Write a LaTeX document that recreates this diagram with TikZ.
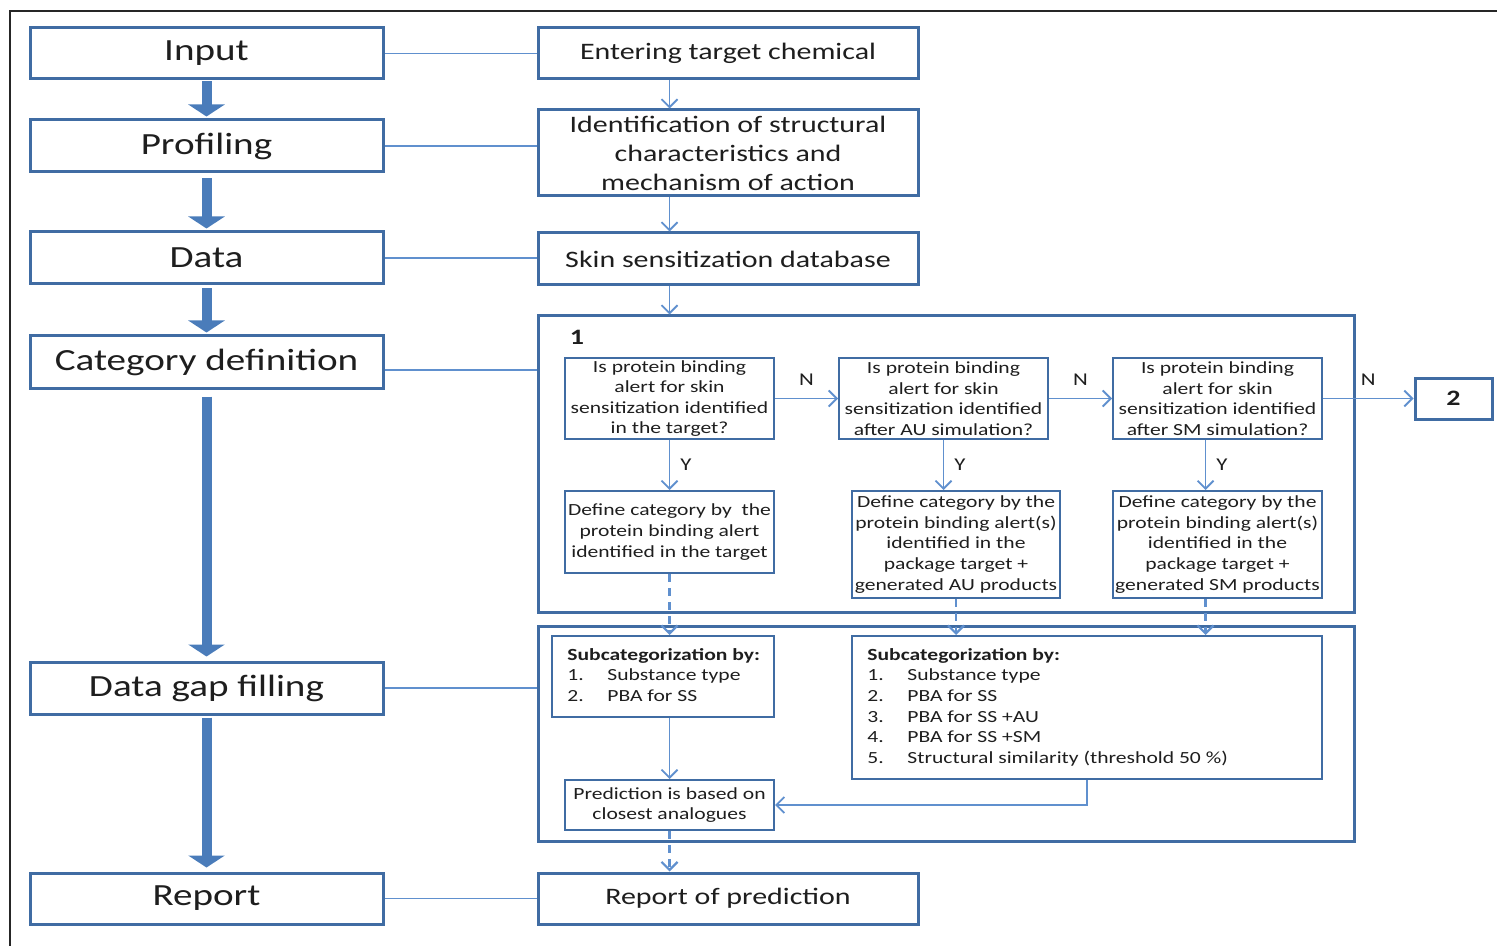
\documentclass[tikz,border=0pt]{standalone}
\usepackage{fontspec}
\setmainfont{Carlito}[FakeStretch=1.27]
\usetikzlibrary{arrows.meta}
\definecolor{edgeblue}{RGB}{64,108,163}
\definecolor{linkblue}{RGB}{96,144,206}
\definecolor{barfill}{RGB}{74,124,186}
\definecolor{ink}{RGB}{30,30,30}
\begin{document}
\begin{tikzpicture}[x=0.5pt,y=-0.5pt, text=ink,
  stage/.style={draw=edgeblue, line width=1.5pt, inner sep=0pt, minimum width=176.5pt, font=\fontsize{15.4}{18}\selectfont},
  task/.style={draw=edgeblue, line width=1.5pt, inner sep=0pt, minimum width=190pt, align=center, font=\fontsize{11.8}{14.5}\selectfont},
  panel/.style={draw=edgeblue, line width=1.5pt, inner sep=0pt, minimum width=408pt},
  small/.style={draw=edgeblue, line width=1pt, inner sep=0pt, align=center, font=\fontsize{8.5}{10.3}\selectfont},
  listtext/.style={anchor=north west, inner sep=0pt, align=left, font=\fontsize{8.5}{10.3}\selectfont},
  bar/.style={barfill, line width=5pt, -{Triangle[length=6pt,width=18pt]}},
  link/.style={linkblue, line width=0.9pt},
  flow/.style={link, -{Straight Barb[length=4pt,width=8pt]}},
  dflow/.style={flow, line width=1.1pt, dash pattern=on 4pt off 3pt},
  lab/.style={inner sep=0pt, text=ink, font=\fontsize{9}{10}\selectfont}]
\useasboundingbox (0,0) rectangle (1497,946);

% outer frame (top and left edges only)
\draw[line width=1pt, black!85] (10,946) -- (10,11) -- (1497,11);

% stage column
\node[stage, minimum height=25.5pt] (input) at (206.5,53.5) {Input};
\node[stage, minimum height=26pt] (profiling) at (206.5,146) {Profiling};
\node[stage, minimum height=26pt] (data) at (206.5,258) {Data};
\node[stage, minimum height=26pt] (cat) at (206.5,362) {Category definition};
\node[stage, minimum height=26pt] (gap) at (206.5,688) {Data gap filling};
\node[stage, minimum height=25.5pt] (report) at (206.5,898.5) {Report};

\draw[bar] ([yshift=-0.5pt]input.south) -- ([yshift=1pt]profiling.north);
\draw[bar] ([yshift=-2.5pt]profiling.south) -- ([yshift=1pt]data.north);
\draw[bar] ([yshift=-1.5pt]data.south) -- ([yshift=1pt]cat.north);
\draw[bar] ([yshift=-3.5pt]cat.south) -- ([yshift=2pt]gap.north);
\draw[bar] ([yshift=-1pt]gap.south) -- ([yshift=2pt]report.north);

% task column
\node[task, minimum height=25.5pt] (enter) at (728,53.5) {Entering target chemical};
\node[task, minimum height=43pt] (ident) at (728,153) {Identification of structural\\characteristics and\\mechanism of action};
\node[task, minimum height=26pt] (db) at (728,259) {Skin sensitization database};
\node[task, minimum height=25.5pt] (repred) at (728,898.5) {Report of prediction};

% panels
\node[panel, minimum height=148pt] (p1) at (946,464) {};
\node[panel, minimum height=107.5pt] (p2) at (946,733.5) {};
\node[inner sep=0pt, font=\bfseries\fontsize{11}{12}\selectfont] (one) at (577,337) {1};

% decision boxes
\node[small, minimum width=104.5pt, minimum height=40.5pt] (d1) at (669.5,398.5) {Is protein binding\\alert for skin\\sensitization identified\\in the target?};
\node[small, minimum width=104.5pt, minimum height=40.5pt] (d2) at (943.5,398.5) {Is protein binding\\alert for skin\\sensitization identified\\after AU simulation?};
\node[small, minimum width=104.5pt, minimum height=40.5pt] (d3) at (1217.5,398.5) {Is protein binding\\alert for skin\\sensitization identified\\after SM simulation?};
\node[stage, minimum width=38.5pt, minimum height=20.5pt, font=\bfseries\fontsize{11}{12}\selectfont] (two) at (1453.5,398.5) {2};

% category definitions
\node[small, minimum width=104.5pt, minimum height=41pt] (def1) at (669.5,532) {Define category by~ the\\protein binding alert\\identified in the target};
\node[small, minimum width=104pt, minimum height=53.5pt] (def2) at (956,544.5) {Define category by the\\protein binding alert(s)\\identified in the\\package target +\\generated AU products};
\node[small, minimum width=104.5pt, minimum height=53.5pt] (def3) at (1217.5,544.5) {Define category by the\\protein binding alert(s)\\identified in the\\package target +\\generated SM products};

% subcategorization
\node[small, minimum width=111pt, minimum height=40.5pt] (sub1) at (663,676.5) {};
\node[small, minimum width=235pt, minimum height=71.5pt] (sub2) at (1087,707.5) {};
\node[listtext] (sub1t) at ([shift={(16,13)}]sub1.north west) {\textbf{Subcategorization by:}\\
  \makebox[20pt][l]{1.}Substance type\\
  \makebox[20pt][l]{2.}PBA for SS};
\node[listtext] (sub2t) at ([shift={(16,13)}]sub2.north west) {\textbf{Subcategorization by:}\\
  \makebox[20pt][l]{1.}Substance type\\
  \makebox[20pt][l]{2.}PBA for SS\\
  \makebox[20pt][l]{3.}PBA for SS +AU\\
  \makebox[20pt][l]{4.}PBA for SS +SM\\
  \makebox[20pt][l]{5.}Structural similarity (threshold 50 \%)};
\node[small, minimum width=104.5pt, minimum height=25pt] (pred) at (669.5,805) {Prediction is based on\\closest analogues};

% links between the columns
\draw[link] (input.east) -- (enter.west);
\draw[link] (profiling.east) -- (profiling.east -| ident.west);
\draw[link] (data.east) -- (data.east -| db.west);
\draw[link] ([yshift=-4pt]cat.east) -- ([yshift=-4pt]cat.east -| p1.west);
\draw[link] (gap.east) -- (gap.east -| p2.west);
\draw[link] (report.east) -- (repred.west);

% main flow
\draw[flow] (enter.south -| d1) -- (ident.north -| d1);
\draw[flow] (ident.south -| d1) -- (db.north -| d1);
\draw[flow] (db.south -| d1) -- (p1.north -| d1);

\draw[flow] (d1.east) -- node[lab, above=6pt] (n1) {N} (d2.west);
\draw[flow] (d2.east) -- node[lab, above=6pt] (n2) {N} (d3.west);
\draw[flow] (d3.east) -- node[lab, above=6pt] (n3) {N} (two.west);

\draw[flow] (d1.south) -- node[lab, right=5pt] (y1) {Y} (def1.north);
\draw[flow] (d2.south) -- node[lab, right=5pt] (y2) {Y} (d2.south |- def2.north);
\draw[flow] ([xshift=-6pt]d3.south) -- node[lab, right=5pt] (y3) {Y} ([xshift=-6pt]def3.north);

\draw[dflow] (def1.south) -- (def1.south |- sub1.north);
\draw[dflow] (def2.south) -- (def2.south |- sub2.north);
\draw[dflow] ([xshift=-6pt]def3.south) -- ([xshift=-6pt]def3.south |- sub2.north);

\draw[flow] (sub1.south -| pred) -- (pred.north);
\draw[flow] (sub2.south) |- (pred.east);
\draw[dflow] (pred.south) -- (pred.south |- repred.north);
\end{tikzpicture}
\end{document}
